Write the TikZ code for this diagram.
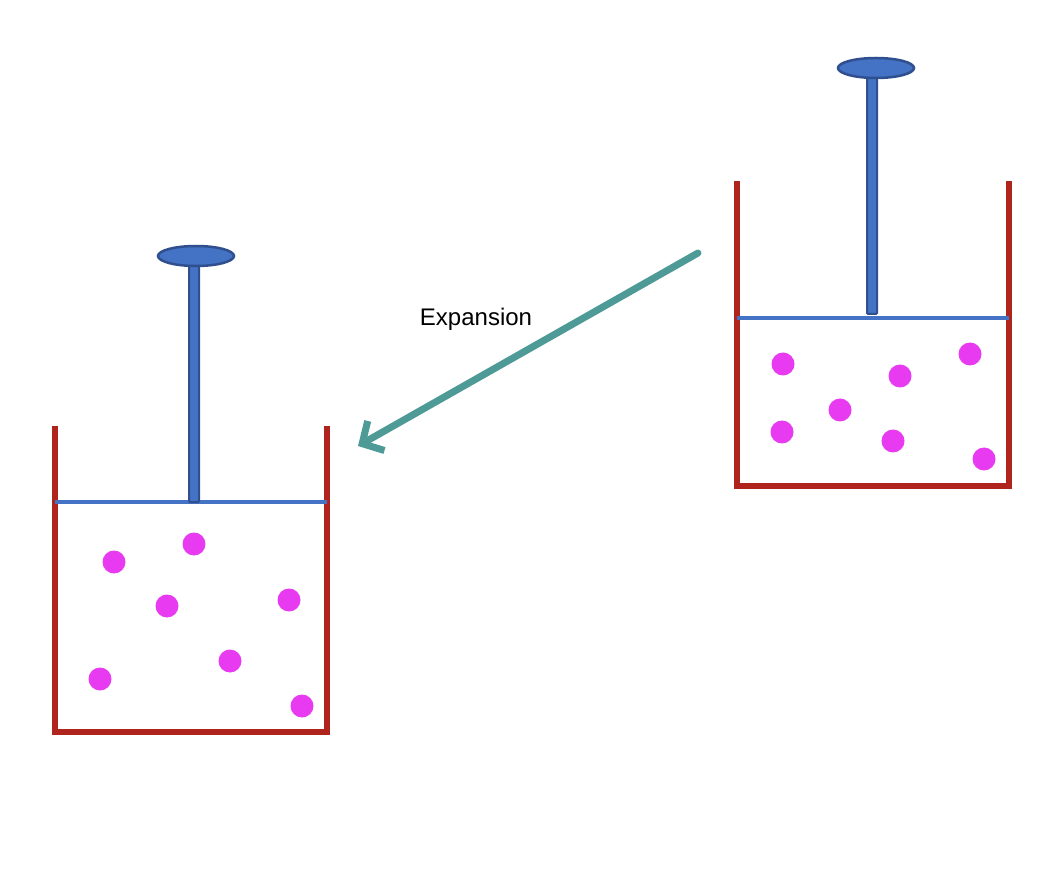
\documentclass[tikz,border=0pt]{standalone}
\usepackage{fontspec}
\setmainfont{Liberation Sans}
\usetikzlibrary{arrows.meta}
\definecolor{wall}{HTML}{B0241E}
\definecolor{pist}{HTML}{4472C4}
\definecolor{pistd}{HTML}{2F4F8F}
\definecolor{dot}{HTML}{E83AF0}
\definecolor{arr}{HTML}{4E9A96}
\tikzset{
 wallline/.style={draw=wall,line width=6pt},
 pline/.style={draw=pist,line width=3.5pt},
 rod/.style={fill=pist,draw=pistd,line width=2pt,rounded corners=1pt},
 pcap/.style={fill=pist,draw=pistd,line width=2.5pt},
 mol/.style={circle,fill=dot,minimum size=23pt,inner sep=0pt}
}
\begin{document}
\begin{tikzpicture}[x=1pt,y=-1pt]
\useasboundingbox (0,0) rectangle (1058,882);
% left cylinder
\coordinate (LA) at (55,426); \coordinate (LB) at (55,732);
\coordinate (LC) at (327,732); \coordinate (LD) at (327,426);
\draw[wallline] (LA) -- (LB) -- (LC) -- (LD);
\coordinate (LP1) at (55,502); \coordinate (LP2) at (327,502);
\draw[pline] (LP1) -- (LP2);
\path[rod] (189,262) rectangle (199,502);
\path[pcap] (196,256) ellipse [x radius=38, y radius=10];
\foreach \p [count=\i] in {(114,562),(194,544),(167,606),(289,600),(230,661),(100,679),(302,706)}
  \node[mol] (lm\i) at \p {};
% right cylinder
\coordinate (RA) at (737,181); \coordinate (RB) at (737,486);
\coordinate (RC) at (1009,486); \coordinate (RD) at (1009,181);
\draw[wallline] (RA) -- (RB) -- (RC) -- (RD);
\coordinate (RP1) at (737,318); \coordinate (RP2) at (1009,318);
\draw[pline] (RP1) -- (RP2);
\path[rod] (867,75) rectangle (877,314);
\path[pcap] (876,68) ellipse [x radius=38, y radius=10];
\foreach \p [count=\i] in {(783,364),(900,376),(970,354),(840,410),(782,432),(893,441),(984,459)}
  \node[mol] (rm\i) at \p {};
% arrow
\coordinate (s) at (698,253); \coordinate (e) at (358,446);
\draw[draw=arr,line width=7pt,line cap=round,-{Straight Barb[length=16pt,width=34pt,line width=7pt]}] (s) -- (e);
\node[font=\fontsize{24pt}{28pt}\selectfont] (lab) at (476,319) {Expansion};
\end{tikzpicture}
\end{document}
